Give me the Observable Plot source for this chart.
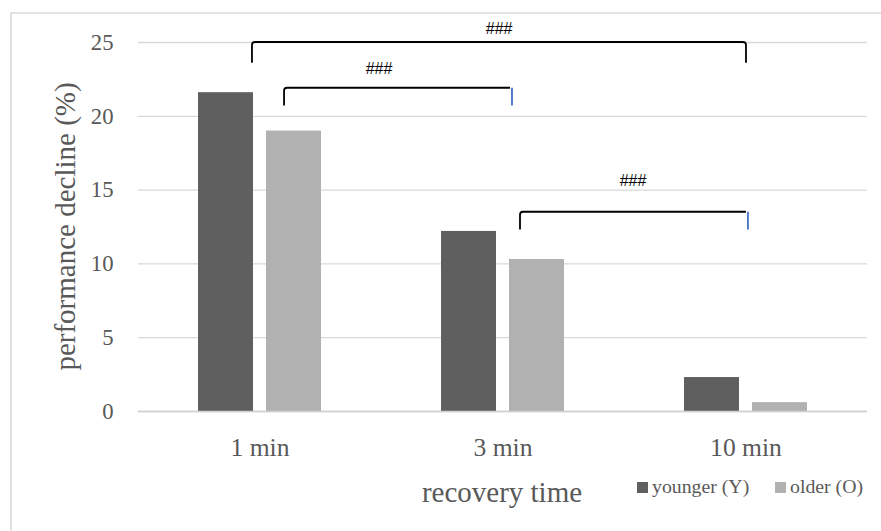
<!DOCTYPE html>
<html><head><meta charset="utf-8">
<script src="https://cdn.jsdelivr.net/npm/d3@7"></script>
<script src="https://cdn.jsdelivr.net/npm/@observablehq/plot@0.6"></script>
<style>body{margin:0;background:#fff;} svg{display:block;}</style>
</head><body><div id="chart"></div>
<script>
// ---- data ----
const categories = ["1 min", "3 min", "10 min"];
const seriesNames = ["younger (Y)", "older (O)"];
const younger = [21.6, 12.2, 2.3];
const older = [19.0, 10.3, 0.6];
const yTicks = [0, 5, 10, 15, 20, 25];
const xTitle = "recovery time";
const yTitle = "performance decline (%)";

// significance brackets (annotation)
const bracketFrom = ["1 min", "1 min", "3 min"];
const bracketFromFrac = [0.469, 0.601, 0.572];
const bracketTo = ["10 min", "3 min", "10 min"];
const bracketToFrac = [0.502, 0.539, 0.510];
const bracketTop = [25, 21.9, 13.5];
const bracketFoot = [23.6, 20.7, 12.3];
const bracketLabel = ["###", "###", "###"];
const bracketLabelCat = ["3 min", "1 min", "10 min"];
const bracketLabelFrac = [0.486, 0.992, 0.037];
const bracketLabelY = [25.95, 23.2, 15.65];
const bracketRightColor = ["#000000", "#4472C4", "#4472C4"];

const rows = categories.flatMap((c, i) => [
  {cat: c, group: seriesNames[0], value: younger[i]},
  {cat: c, group: seriesNames[1], value: older[i]}
]);

const textColor = "#595959";
const plot = Plot.plot({
  width: 881, height: 531,
  marginLeft: 137, marginRight: 14, marginTop: 42, marginBottom: 120,
  style: {fontFamily: "Liberation Serif", fontSize: "22.7px", color: textColor, background: "#fff", overflow: "visible"},
  fx: {domain: categories, padding: 0, label: null},
  x: {domain: seriesNames, paddingInner: 0.191, paddingOuter: 0.882, axis: null, label: null},
  y: {domain: [0, 25], label: null},
  color: {domain: seriesNames, range: ["#5f5f5f", "#b1b1b1"]},
  marks: [
    Plot.gridY(yTicks, {stroke: "#d9d9d9", strokeOpacity: 1, strokeWidth: 1.3}),
    Plot.axisY(yTicks, {tickSize: 0, tickPadding: 25, fontSize: 22.7, fill: textColor, label: null}),
    Plot.axisFx({anchor: "bottom", tickSize: 0, tickPadding: 26, fontSize: 25.6, fill: textColor, label: null}),
    Plot.barY(rows, {fx: "cat", x: "group", y: "value", fill: "group"}),
    Plot.ruleY([0], {stroke: "#d0d0d0", strokeWidth: 1.5})
  ]
});
document.getElementById("chart").appendChild(plot);

// ---- overlay: border, titles, legend, brackets ----
const svg = d3.select(plot);
const fx = plot.scale("fx"), y = plot.scale("y"), color = plot.scale("color");
const bw = fx.bandwidth;
const X = (cat, frac) => fx.apply(cat) + frac * bw;
const [r0, r1] = fx.range;
const y0 = y.apply(0), yTopV = y.apply(25);

const g = svg.append("g").attr("text-anchor", "start");
// chart-area border (top & left visible)
g.append("path").attr("d", "M11,531V13H881").attr("fill", "none").attr("stroke", "#d9d9d9").attr("stroke-width", 1.5);

// y title
g.append("text").attr("transform", `translate(75,${(y0 + yTopV) / 2}) rotate(-90)`)
  .attr("text-anchor", "middle").attr("fill", textColor)
  .style("font-family", "Liberation Serif").style("font-size", "29px").text(yTitle);
// x title
g.append("text").attr("x", (r0 + r1) / 2).attr("y", y0 + 91)
  .attr("text-anchor", "middle").attr("fill", textColor)
  .style("font-family", "Liberation Serif").style("font-size", "29px").text(xTitle);

// legend
const legX = [637, 775];
seriesNames.forEach((s, i) => {
  g.append("rect").attr("x", legX[i]).attr("y", y0 + 71).attr("width", 11).attr("height", 11).attr("fill", color.apply(s));
  g.append("text").attr("x", legX[i] + 15).attr("y", y0 + 82).attr("fill", textColor)
    .attr("text-anchor", "start")
    .style("font-family", "Liberation Serif").style("font-size", "19.8px").text(s);
});

// brackets
const r = 3;
bracketFrom.forEach((c, i) => {
  const xL = X(c, bracketFromFrac[i]);
  const xR = X(bracketTo[i], bracketToFrac[i]);
  const yT = y.apply(bracketTop[i]);
  const yF = y.apply(bracketFoot[i]);
  const black = bracketRightColor[i] === "#000000";
  let d = `M${xL},${yF}V${yT + r}Q${xL},${yT} ${xL + r},${yT}`;
  if (black) d += `H${xR - r}Q${xR},${yT} ${xR},${yT + r}V${yF}`;
  else d += `H${xR - 2}`;
  g.append("path").attr("d", d).attr("fill", "none").attr("stroke", "#000").attr("stroke-width", 1.8);
  if (!black) g.append("line").attr("x1", xR).attr("x2", xR).attr("y1", yT).attr("y2", yF)
    .attr("stroke", bracketRightColor[i]).attr("stroke-width", 1.8);
  g.append("text").attr("x", X(bracketLabelCat[i], bracketLabelFrac[i])).attr("y", y.apply(bracketLabelY[i]))
    .attr("text-anchor", "middle").attr("dy", "0.35em").attr("fill", "#000")
    .style("font-family", "Liberation Sans").style("font-size", "16px").text(bracketLabel[i]);
});
</script>
</body></html>
